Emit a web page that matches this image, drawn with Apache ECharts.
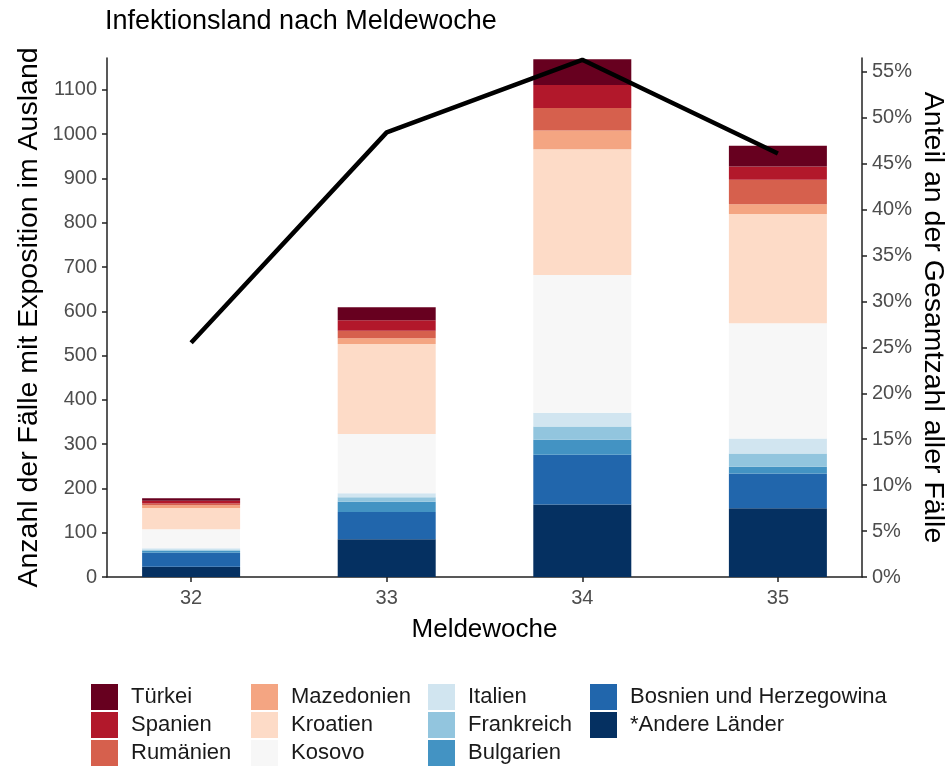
<!DOCTYPE html>
<html>
<head>
<meta charset="utf-8">
<script src="https://cdn.jsdelivr.net/npm/echarts@6/dist/echarts.min.js"></script>
<style>
html,body{margin:0;padding:0;background:#fff;}
#chart{width:946px;height:770px;}
</style>
</head>
<body>
<div id="chart"></div>
<script>
// Data
const weeks = [32, 33, 34, 35];
const countries = ['*Andere Länder', 'Bosnien und Herzegowina', 'Bulgarien', 'Frankreich', 'Italien',
  'Kosovo', 'Kroatien', 'Mazedonien', 'Rumänien', 'Spanien', 'Türkei'];
const andereLaender = [23, 85, 164, 155];
const bosnien = [32, 62, 112, 79];
const bulgarien = [4, 23, 34, 15];
const frankreich = [3, 10, 30, 30];
const italien = [3, 9, 31, 34];
const kosovo = [43, 134, 311, 260];
const kroatien = [48, 203, 284, 247];
const mazedonien = [6, 13, 42, 22];
const rumaenien = [4, 17, 51, 55];
const spanien = [6, 24, 52, 30];
const tuerkei = [6, 29, 58, 47];
const anteil = [0.255, 0.484, 0.563, 0.461];
const leftTicks = [0, 100, 200, 300, 400, 500, 600, 700, 800, 900, 1000, 1100];
const rightTicks = [0, 0.05, 0.10, 0.15, 0.20, 0.25, 0.30, 0.35, 0.40, 0.45, 0.50, 0.55];

const seriesValues = [andereLaender, bosnien, bulgarien, frankreich, italien, kosovo, kroatien, mazedonien, rumaenien, spanien, tuerkei];
const colors = ['#053061', '#2166AC', '#4393C3', '#92C5DE', '#D1E5F0', '#F7F7F7', '#FDDBC7', '#F4A582', '#D6604D', '#B2182B', '#67001F'];

const FONT = 'Liberation Sans, Arial, sans-serif';

// value first, week second: the value dimension is the stacked one
const barSeries = countries.map((name, i) => ({
  name: name,
  type: 'bar',
  stack: 'total',
  barWidth: 98,
  yAxisIndex: 0,
  encode: { x: 1, y: 0 },
  itemStyle: { color: colors[i] },
  emphasis: { disabled: true },
  data: weeks.map((w, j) => [seriesValues[i][j], w])
}));

const lineSeries = {
  name: 'Anteil',
  type: 'line',
  yAxisIndex: 1,
  showSymbol: false,
  symbol: 'none',
  z: 10,
  lineStyle: { color: '#000', width: 4.5 },
  data: weeks.map((w, j) => [w, anteil[j]])
};

function legendCol(names, left) {
  return {
    orient: 'vertical',
    left: left,
    top: 684,
    padding: 0,
    itemWidth: 27,
    itemHeight: 26,
    itemGap: 2,
    icon: 'rect',
    selectedMode: false,
    data: names,
    textStyle: { fontFamily: FONT, fontSize: 22, color: '#1a1a1a', padding: [0, 0, 0, 8] }
  };
}

const chart = echarts.init(document.getElementById('chart'), null, { renderer: 'canvas' });
chart.setOption({
  animation: false,
  backgroundColor: '#fff',
  title: {
    text: 'Infektionsland nach Meldewoche',
    left: 105,
    top: 8,
    padding: 0,
    textStyle: { fontFamily: FONT, fontSize: 27, fontWeight: 'normal', color: '#000' }
  },
  legend: [
    legendCol(['Türkei', 'Spanien', 'Rumänien'], 91),
    legendCol(['Mazedonien', 'Kroatien', 'Kosovo'], 251),
    legendCol(['Italien', 'Frankreich', 'Bulgarien'], 428),
    legendCol(['Bosnien und Herzegowina', '*Andere Länder'], 590)
  ],
  grid: { left: 107, right: 84, top: 58, bottom: 193, containLabel: false, outerBoundsMode: 'none' },
  xAxis: {
    type: 'value',
    min: 31.57,
    max: 35.43,
    name: 'Meldewoche',
    nameLocation: 'middle',
    nameGap: 40,
    nameMoveOverlap: false,
    nameTextStyle: { fontFamily: FONT, fontSize: 26, color: '#000' },
    axisLine: { show: true, onZero: false, lineStyle: { color: '#222', width: 1.5 } },
    axisTick: { show: true, length: 5, customValues: weeks, lineStyle: { color: '#222', width: 1.5 } },
    axisLabel: { customValues: weeks, fontFamily: FONT, fontSize: 20, color: '#4d4d4d', margin: 11, formatter: v => String(v) },
    splitLine: { show: false }
  },
  yAxis: [
    {
      type: 'value',
      min: 0,
      max: 1172,
      position: 'left',
      name: 'Anzahl der Fälle mit Exposition im Ausland',
      nameLocation: 'middle',
      nameRotate: 90,
      nameGap: 63,
      nameMoveOverlap: false,
      nameTextStyle: { fontFamily: FONT, fontSize: 28.5, color: '#000' },
      axisLine: { show: true, lineStyle: { color: '#222', width: 1.5 } },
      axisTick: { show: true, length: 5, customValues: leftTicks, lineStyle: { color: '#222', width: 1.5 } },
      axisLabel: { customValues: leftTicks, fontFamily: FONT, fontSize: 20, color: '#4d4d4d', margin: 10, formatter: v => String(v) },
      splitLine: { show: false }
    },
    {
      type: 'value',
      min: 0,
      max: 0.565,
      position: 'right',
      name: 'Anteil an der Gesamtzahl aller Fälle',
      nameLocation: 'middle',
      nameRotate: -90,
      nameGap: 56,
      nameMoveOverlap: false,
      nameTextStyle: { fontFamily: FONT, fontSize: 28.5, color: '#000' },
      axisLine: { show: true, lineStyle: { color: '#222', width: 1.5 } },
      axisTick: { show: true, length: 5, customValues: rightTicks, lineStyle: { color: '#222', width: 1.5 } },
      axisLabel: {
        customValues: rightTicks,
        fontFamily: FONT, fontSize: 20, color: '#4d4d4d', margin: 10,
        formatter: v => Math.round(v * 100) + '%'
      },
      splitLine: { show: false }
    }
  ],
  series: barSeries.concat([lineSeries])
});
</script>
</body>
</html>
